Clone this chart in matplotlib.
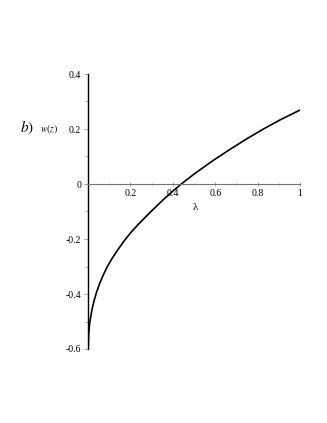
import numpy as np
import matplotlib
matplotlib.use("Agg")
import matplotlib.pyplot as plt
from matplotlib.ticker import MultipleLocator

# values
lam = [0.001, 0.003, 0.008, 0.017, 0.028, 0.041, 0.056, 0.072, 0.090, 0.111,
       0.140, 0.175, 0.205, 0.237, 0.270, 0.300, 0.355, 0.400, 0.440, 0.500,
       0.591, 0.670, 0.748, 0.830, 0.906, 1.0]
w = [-0.604, -0.549, -0.505, -0.464, -0.426, -0.392, -0.360, -0.331, -0.302, -0.274,
     -0.240, -0.202, -0.174, -0.147, -0.121, -0.098, -0.057, -0.026, 0.000, 0.036,
     0.086, 0.126, 0.164, 0.201, 0.233, 0.269]

xticks = [0.2, 0.4, 0.6, 0.8, 1]
xticklabels = ["0.2", "0.4", "0.6", "0.8", "1"]
yticks = [-0.6, -0.4, -0.2, 0, 0.2, 0.4]
yticklabels = ["-0.6", "-0.4", "-0.2", "0", "0.2", "0.4"]

plt.rcParams["font.family"] = ["Liberation Serif", "DejaVu Serif"]
plt.rcParams["mathtext.fontset"] = "stix"

fig = plt.figure(figsize=(3.27, 4.23), dpi=100)
ax = fig.add_axes([88 / 327, 1 - 349 / 423, 212 / 327, 275 / 423])

ax.plot(lam, w, color="black", lw=1.2, solid_joinstyle="round")

ax.set_xlim(0, 1)
ax.set_ylim(-0.6, 0.4)

ax.spines["top"].set_visible(False)
ax.spines["right"].set_visible(False)
ax.spines["bottom"].set_position(("data", 0))
ax.spines["bottom"].set_color("0.45")
ax.spines["bottom"].set_linewidth(0.8)
ax.spines["left"].set_linewidth(1.0)

ax.set_xticks(xticks)
ax.set_xticklabels(xticklabels)
ax.set_yticks(yticks)
ax.set_yticklabels(yticklabels)
ax.xaxis.set_minor_locator(MultipleLocator(0.1))
ax.yaxis.set_minor_locator(MultipleLocator(0.1))
ax.tick_params(axis="both", which="major", labelsize=7, length=3, width=0.5, color="0.5", pad=2)
ax.tick_params(axis="both", which="minor", length=2, width=0.5, color="0.5")
ax.tick_params(axis="x", which="both", direction="inout")

fig.text(195 / 327, 1 - 207 / 423, "λ", fontsize=8, ha="center", va="center")
fig.text(49 / 327, 1 - 129 / 423, "$w(z)$", fontsize=7, ha="center", va="center")
fig.text(27 / 327, 1 - 128 / 423, "$b)$", fontsize=11, ha="center", va="center")

fig.savefig("out.png", dpi=100)
